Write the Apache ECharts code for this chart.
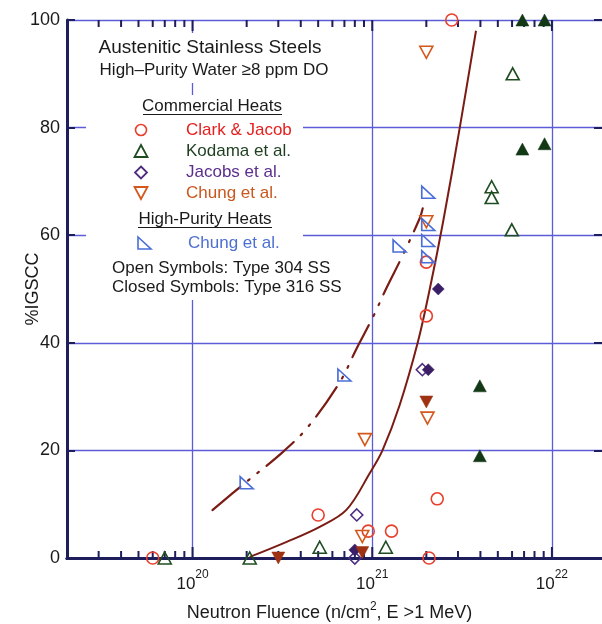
<!DOCTYPE html>
<html>
<head>
<meta charset="utf-8">
<script src="https://cdn.jsdelivr.net/npm/echarts@6/dist/echarts.min.js"></script>
<style>
  html, body { margin: 0; padding: 0; background: #ffffff; overflow: hidden; }
  #frame { width: 602px; height: 624px; overflow: hidden; position: relative; }
  /* the plot frame runs a few pixels past the right edge of the page */
  #chart { width: 612px; height: 624px; position: absolute; left: 0; top: 0; }
</style>
</head>
<body>
<div id="frame"><div id="chart"></div></div>
<script>
// Points are [neutron fluence (n/cm^2, E > 1 MeV), % IGSCC]

// Commercial heats
const clarkJacob304 = [[6.0e19, 0], [5.0e20, 8], [9.5e20, 5], [1.28e21, 5], [2.07e21, 0],
  [2.3e21, 11], [2.0e21, 45], [2.0e21, 55], [2.77e21, 100]];
const kodama304 = [[7.0e19, 0], [2.08e20, 0], [5.1e20, 2], [1.19e21, 2], [4.62e21, 69],
  [4.62e21, 67], [5.98e21, 61], [6.05e21, 90]];
const kodama316 = [[6.85e21, 100], [9.1e21, 100], [6.85e21, 76], [9.1e21, 77], [3.97e21, 32], [3.97e21, 19]];
const jacobs304 = [[8.2e20, 8], [8.0e20, 0], [1.9e21, 35]];
const jacobs316 = [[8.0e20, 1.5], [2.05e21, 35], [2.33e21, 50]];
const chung304 = [[2.0e21, 94], [2.0e21, 62.5], [2.03e21, 26], [9.1e20, 22], [8.8e20, 4]];
const chung316 = [[3.0e20, 0], [8.8e20, 1], [2.0e21, 29]];

// High-purity heats
const chungHP304 = [[2.0e20, 14], [7.0e20, 34], [1.42e21, 58], [2.05e21, 68], [2.05e21, 62],
  [2.05e21, 59], [2.05e21, 56]];

// Trend curves
const commercialTrend = [[2.08e20, 0.2], [3.34e20, 3], [5.1e20, 5.8], [7.2e20, 9], [9.7e20, 15.8],
  [1.14e21, 20], [1.42e21, 28.4], [1.79e21, 40], [2.09e21, 50], [2.48e21, 62.5], [3.07e21, 80], [3.78e21, 98]];
const highPurityTrend = [[1.29e20, 8.9], [1.95e20, 13.9], [3.13e20, 19.5], [4.37e20, 24.3], [6.6e20, 32.7],
  [8.2e20, 39], [1.01e21, 44.8], [1.2e21, 50.2], [1.46e21, 55.9], [1.84e21, 63.2], [1.91e21, 65]];

// Axis ranges and ticks
const xRange = [2e19, 2e22];
const yRange = [0, 100];
const yStep = 20;
const majorTickValues = [1e20, 1e21, 1e22];
const minorTickValues = [];
for (let d = 19; d <= 21; d++) {
  for (let k = 2; k <= 9; k++) {
    const v = k * Math.pow(10, d);
    if (v > xRange[0] * 1.0001 && v < xRange[1] * 0.9999) minorTickValues.push(v);
  }
}

const FONT = '"Liberation Sans", Arial, Helvetica, sans-serif';
const AXIS = '#1e1e5c';
const GRIDC = '#5c5cd8';
const TEXT = '#1a1a1a';

const C = {
  red: '#e8402c', redText: '#e5201e',
  green: '#1f4d22', greenFill: '#123816', greenText: '#1d3f20',
  purple: '#4e2c80', purpleFill: '#3a1f66', purpleText: '#5b2e8c',
  orange: '#d4581c', orangeFill: '#9e3212', orangeText: '#c9581f',
  blue: '#4a6ed8', blueText: '#4d6fd2',
  curve: '#7a1c14'
};

const RIGHT_TRI = 'path://M0,0 L0,12 L13,12 Z';

function scatter(name, data, symbol, size, stroke, fill, rotate) {
  return {
    name, type: 'scatter', data, symbol, symbolSize: size, symbolRotate: rotate || 0,
    clip: false, silent: true, z: 3,
    itemStyle: {
      color: fill || 'rgba(0,0,0,0)',
      borderColor: stroke,
      borderWidth: fill ? 0.5 : 1.6,
      opacity: 1
    }
  };
}

// Inward tick marks on the bottom and top edges of the log axis
function logTicks(name, values, len) {
  return {
    name, type: 'custom', silent: true, clip: false, z: 1,
    xAxisIndex: 0, yAxisIndex: 0,
    data: values.map(v => [v, yRange[0]]),
    renderItem: (params, api) => {
      const v = api.value(0);
      const b = api.coord([v, yRange[0]]);
      const t = api.coord([v, yRange[1]]);
      return {
        type: 'group',
        children: [
          { type: 'line', shape: { x1: b[0], y1: b[1], x2: b[0], y2: b[1] - len }, style: { stroke: AXIS, lineWidth: 2 } },
          { type: 'line', shape: { x1: t[0], y1: t[1], x2: t[0], y2: t[1] + len }, style: { stroke: AXIS, lineWidth: 2 } }
        ]
      };
    }
  };
}

function isPow10(v) {
  const e = Math.log10(v);
  return Math.abs(e - Math.round(e)) < 1e-6;
}

const chart = echarts.init(document.getElementById('chart'), null, { renderer: 'canvas' });

const option = {
  animation: false,
  backgroundColor: '#ffffff',
  textStyle: { fontFamily: FONT },
  grid: { left: 67, top: 20, right: 6, bottom: 66, containLabel: false, outerBoundsMode: 'none' },
  xAxis: [
    {
      type: 'log', logBase: 10, min: xRange[0], max: xRange[1], position: 'bottom',
      axisLine: { show: true, lineStyle: { color: AXIS, width: 3 } },
      axisTick: { show: false },
      splitLine: { show: true, lineStyle: { color: GRIDC, width: 1.3 } },
      axisLabel: {
        margin: 11,
        formatter: v => isPow10(v) ? '{b|10}{s|' + Math.round(Math.log10(v)) + '}' : '',
        rich: {
          b: { fontSize: 17, lineHeight: 24, verticalAlign: 'bottom', color: TEXT, fontFamily: FONT },
          s: { fontSize: 12, lineHeight: 12, verticalAlign: 'top', color: TEXT, fontFamily: FONT }
        }
      },
      name: 'Neutron Fluence (n/cm{s|2}, E >1 MeV)',
      nameLocation: 'middle',
      nameGap: 43,
      nameMoveOverlap: false,
      nameTextStyle: {
        fontSize: 18, color: TEXT, fontFamily: FONT, lineHeight: 24, padding: [0, 14, 0, 0],
        rich: { s: { fontSize: 12, lineHeight: 12, verticalAlign: 'top', color: TEXT, fontFamily: FONT } }
      }
    },
    {
      type: 'log', logBase: 10, min: xRange[0], max: xRange[1], position: 'top',
      axisLine: { show: true, lineStyle: { color: AXIS, width: 3 } },
      axisTick: { show: false },
      splitLine: { show: false },
      axisLabel: { show: false }
    }
  ],
  yAxis: [
    {
      type: 'value', min: yRange[0], max: yRange[1], interval: yStep, position: 'left',
      axisLine: { show: true, lineStyle: { color: AXIS, width: 3 } },
      axisTick: { show: true, inside: true, length: 8, lineStyle: { color: AXIS, width: 2 } },
      splitLine: { show: true, lineStyle: { color: GRIDC, width: 1.3 } },
      axisLabel: { margin: 7, fontSize: 18, color: TEXT, fontFamily: FONT },
      name: '%IGSCC', nameLocation: 'middle', nameGap: 25, nameRotate: 90, nameMoveOverlap: false,
      nameTextStyle: { fontSize: 18, color: TEXT, fontFamily: FONT }
    },
    {
      type: 'value', min: yRange[0], max: yRange[1], interval: yStep, position: 'right',
      axisLine: { show: true, lineStyle: { color: AXIS, width: 3 } },
      axisTick: { show: true, inside: true, length: 12, lineStyle: { color: AXIS, width: 2 } },
      splitLine: { show: false },
      axisLabel: { show: false }
    }
  ],
  series: [
    logTicks('minor ticks', minorTickValues, 7),
    logTicks('major ticks', majorTickValues, 11),
    {
      name: 'Commercial trend', type: 'line', data: commercialTrend, smooth: 0.35,
      showSymbol: false, symbol: 'none', silent: true, z: 2,
      lineStyle: { color: C.curve, width: 2 }
    },
    {
      name: 'High-purity trend', type: 'line', data: highPurityTrend, smooth: 0.35,
      showSymbol: false, symbol: 'none', silent: true, z: 2,
      lineStyle: { color: C.curve, width: 2.2, type: [36, 10, 2, 10, 2, 10], cap: 'round' }
    },
    scatter('Clark & Jacob', clarkJacob304, 'circle', 12, C.red),
    scatter('Kodama et al. (304)', kodama304, 'triangle', [13, 12], C.green),
    scatter('Kodama et al. (316)', kodama316, 'triangle', [13, 12], C.greenFill, C.greenFill),
    scatter('Jacobs et al. (304)', jacobs304, 'diamond', [12, 12], C.purple),
    scatter('Jacobs et al. (316)', jacobs316, 'diamond', [12, 12], C.purpleFill, C.purpleFill),
    scatter('Chung et al. (304)', chung304, 'triangle', [13, 12], C.orange, null, 180),
    scatter('Chung et al. (316)', chung316, 'triangle', [13, 12], C.orangeFill, C.orangeFill, 180),
    scatter('Chung et al. HP', chungHP304, RIGHT_TRI, [13, 12], C.blue)
  ],
  graphic: [
    // key panel backgrounds
    { type: 'rect', z: 10, shape: { x: 86, y: 33, width: 250, height: 50 }, style: { fill: '#ffffff' } },
    { type: 'rect', z: 10, shape: { x: 86, y: 95, width: 217, height: 205 }, style: { fill: '#ffffff' } },

    { type: 'text', z: 11, x: 210, y: 48, style: { text: 'Austenitic Stainless Steels', fontSize: 19, fontFamily: FONT, fill: TEXT, align: 'center', verticalAlign: 'middle' } },
    { type: 'text', z: 11, x: 214, y: 70, style: { text: 'High\u2013Purity Water \u22658 ppm DO', fontSize: 17, fontFamily: FONT, fill: TEXT, align: 'center', verticalAlign: 'middle' } },

    { type: 'text', z: 11, x: 212, y: 106, style: { text: 'Commercial Heats', fontSize: 17, fontFamily: FONT, fill: TEXT, align: 'center', verticalAlign: 'middle' } },
    { type: 'line', z: 11, shape: { x1: 143, y1: 114.5, x2: 282, y2: 114.5 }, style: { stroke: TEXT, lineWidth: 1.2 } },

    { type: 'circle', z: 11, shape: { cx: 141, cy: 130, r: 5.5 }, style: { fill: 'none', stroke: C.red, lineWidth: 1.6 } },
    { type: 'text', z: 11, x: 186, y: 130, style: { text: 'Clark & Jacob', fontSize: 17, fontFamily: FONT, fill: C.redText, align: 'left', verticalAlign: 'middle' } },

    { type: 'polygon', z: 11, shape: { points: [[141, 145], [147.5, 157], [134.5, 157]] }, style: { fill: 'none', stroke: C.green, lineWidth: 1.8 } },
    { type: 'text', z: 11, x: 186, y: 151, style: { text: 'Kodama et al.', fontSize: 17, fontFamily: FONT, fill: C.greenText, align: 'left', verticalAlign: 'middle' } },

    { type: 'polygon', z: 11, shape: { points: [[141, 166.5], [147, 172.5], [141, 178.5], [135, 172.5]] }, style: { fill: 'none', stroke: C.purple, lineWidth: 1.8 } },
    { type: 'text', z: 11, x: 186, y: 172, style: { text: 'Jacobs et al.', fontSize: 17, fontFamily: FONT, fill: C.purpleText, align: 'left', verticalAlign: 'middle' } },

    { type: 'polygon', z: 11, shape: { points: [[134.5, 187], [147.5, 187], [141, 199]] }, style: { fill: 'none', stroke: C.orange, lineWidth: 1.8 } },
    { type: 'text', z: 11, x: 186, y: 193, style: { text: 'Chung et al.', fontSize: 17, fontFamily: FONT, fill: C.orangeText, align: 'left', verticalAlign: 'middle' } },

    { type: 'text', z: 11, x: 205, y: 219, style: { text: 'High-Purity Heats', fontSize: 17, fontFamily: FONT, fill: TEXT, align: 'center', verticalAlign: 'middle' } },
    { type: 'line', z: 11, shape: { x1: 138, y1: 227.5, x2: 272, y2: 227.5 }, style: { stroke: TEXT, lineWidth: 1.2 } },

    { type: 'polygon', z: 11, shape: { points: [[138, 237], [138, 249], [151, 249]] }, style: { fill: 'none', stroke: C.blue, lineWidth: 1.6 } },
    { type: 'text', z: 11, x: 188, y: 243, style: { text: 'Chung et al.', fontSize: 17, fontFamily: FONT, fill: C.blueText, align: 'left', verticalAlign: 'middle' } },

    { type: 'text', z: 11, x: 112, y: 268, style: { text: 'Open Symbols: Type 304 SS', fontSize: 17, fontFamily: FONT, fill: TEXT, align: 'left', verticalAlign: 'middle' } },
    { type: 'text', z: 11, x: 112, y: 287, style: { text: 'Closed Symbols: Type 316 SS', fontSize: 17, fontFamily: FONT, fill: TEXT, align: 'left', verticalAlign: 'middle' } }
  ]
};

chart.setOption(option);
</script>
</body>
</html>
